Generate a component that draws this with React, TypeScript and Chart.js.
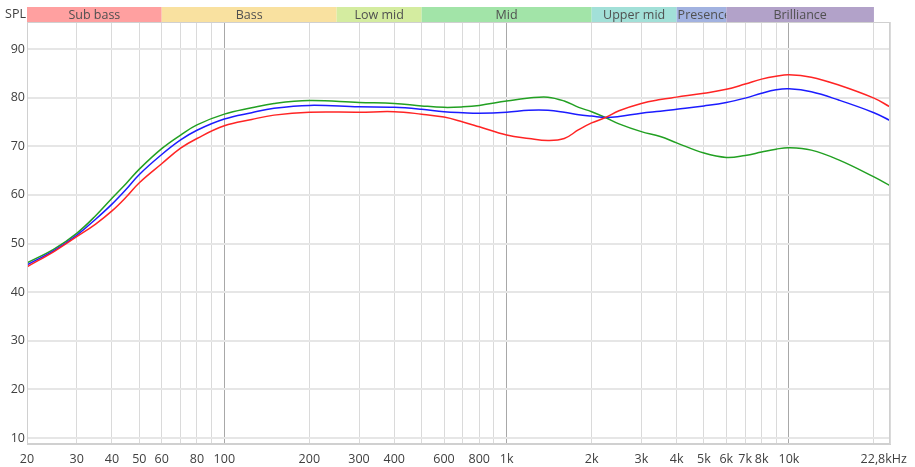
import React, { useEffect, useRef } from 'react';
import { Chart, registerables } from 'chart.js';

Chart.register(...registerables);

const freqs = [20, 25, 30, 35, 40, 45, 50, 60, 70, 80, 100, 125, 150, 200, 300, 400, 500, 600, 700, 800, 1000, 1200, 1400, 1600, 1800, 2000, 2240, 2500, 3000, 3500, 4000, 5000, 6000, 7000, 8000, 9000, 10000, 12000, 15000, 20000, 22800];
const redSpl = [45.2, 48.4, 51.4, 54.0, 56.7, 59.6, 62.5, 66.4, 69.6, 71.6, 74.2, 75.5, 76.4, 77.0, 77.0, 77.1, 76.6, 76.0, 75.0, 74.0, 72.3, 71.6, 71.2, 71.6, 73.4, 74.8, 75.9, 77.3, 78.8, 79.6, 80.1, 80.9, 81.7, 82.8, 83.8, 84.4, 84.7, 84.2, 82.6, 79.9, 78.1];
const blueSpl = [45.6, 48.6, 51.7, 55.0, 58.1, 61.2, 64.2, 68.3, 71.3, 73.3, 75.6, 76.9, 77.8, 78.4, 78.1, 78.0, 77.6, 77.1, 76.9, 76.8, 77.0, 77.4, 77.4, 77.0, 76.5, 76.2, 75.9, 76.1, 76.8, 77.2, 77.6, 78.3, 79.0, 79.9, 80.9, 81.6, 81.8, 81.2, 79.5, 76.9, 75.3];
const greenSpl = [46.0, 48.9, 52.1, 55.7, 59.3, 62.4, 65.3, 69.5, 72.3, 74.4, 76.6, 77.9, 78.8, 79.4, 79.0, 78.8, 78.3, 78.0, 78.1, 78.4, 79.3, 79.9, 80.1, 79.3, 78.0, 77.1, 75.9, 74.6, 73.0, 72.0, 70.7, 68.6, 67.7, 68.1, 68.8, 69.4, 69.7, 69.2, 67.2, 63.7, 61.9];

const xTickValues = [20, 30, 40, 50, 60, 70, 80, 90, 100, 200, 300, 400, 500, 600, 700, 800, 900, 1000, 2000, 3000, 4000, 5000, 6000, 7000, 8000, 9000, 10000, 20000, 22800];
const xTickLabelMap: Record<number, string> = {
  20: '20', 30: '30', 40: '40', 50: '50', 60: '60', 80: '80', 100: '100',
  200: '200', 300: '300', 400: '400', 600: '600', 800: '800', 1000: '1k',
  2000: '2k', 3000: '3k', 4000: '4k', 5000: '5k', 6000: '6k', 7000: '7k', 8000: '8k',
  10000: '10k', 22800: '22,8kHz\u2002\u2002',
};
const yTickValues = [10, 20, 30, 40, 50, 60, 70, 80, 90];
const darkGridValues = [100, 1000, 10000];

const bandNames = ['Sub bass', 'Bass', 'Low mid', 'Mid', 'Upper mid', 'Presence', 'Brilliance'];
const bandEdges = [20, 60, 250, 500, 2000, 4000, 6000, 20000];
const bandColors = ['#ffa0a0', '#f9e1a0', '#d4eca0', '#a2e4a8', '#a2e0d8', '#a2b2e0', '#b2a2c9'];

const FONT = "'Open Sans', sans-serif";

const bandPlugin = {
  id: 'bandStrip',
  afterDraw(chart: any) {
    const { ctx, chartArea, scales } = chart;
    const xs = scales.x;
    ctx.save();
    ctx.strokeStyle = '#d0d0d0';
    ctx.lineWidth = 1;
    ctx.strokeRect(chartArea.left + 0.5, chartArea.top + 0.5, chartArea.right - chartArea.left - 1, chartArea.bottom - chartArea.top - 1);
    const top = 7;
    const h = 15;
    ctx.font = `12.5px ${FONT}`;
    ctx.textBaseline = 'middle';
    ctx.textAlign = 'left';
    for (let i = 0; i < bandNames.length; i++) {
      const x0 = xs.getPixelForValue(bandEdges[i]);
      const x1 = xs.getPixelForValue(bandEdges[i + 1]);
      ctx.fillStyle = bandColors[i];
      ctx.fillRect(x0, top, x1 - x0, h);
      ctx.save();
      ctx.beginPath();
      ctx.rect(x0, top, x1 - x0, h);
      ctx.clip();
      const w = ctx.measureText(bandNames[i]).width;
      const tx = Math.max(x0 + 1, (x0 + x1) / 2 - w / 2);
      ctx.fillStyle = '#505050';
      ctx.fillText(bandNames[i], tx, top + h / 2 + 0.5);
      ctx.restore();
    }
    ctx.fillStyle = '#404040';
    ctx.textAlign = 'right';
    ctx.fillText('SPL', 26, 14);
    ctx.restore();
  },
};

export default function App() {
  const ref = useRef<HTMLCanvasElement | null>(null);
  useEffect(() => {
    if (!ref.current) return;
    const mk = (vals: number[]) => freqs.map((f, i) => ({ x: f, y: vals[i] }));
    const line = (vals: number[], color: string) => ({
      data: mk(vals), borderColor: color, borderWidth: 1.5, pointRadius: 0, tension: 0.4, fill: false,
    });
    const chart = new Chart(ref.current, {
      type: 'line',
      data: {
        datasets: [
          line(redSpl, '#ff2424'),
          line(blueSpl, '#1c1cff'),
          line(greenSpl, '#22a022'),
        ],
      },
      options: {
        animation: false,
        responsive: false,
        maintainAspectRatio: false,
        events: [],
        layout: { padding: { top: 22, right: 25, left: 0, bottom: 0 } },
        plugins: { legend: { display: false }, tooltip: { enabled: false } },
        scales: {
          x: {
            type: 'logarithmic',
            min: 20,
            max: 22800,
            afterBuildTicks: (scale: any) => {
              scale.ticks = xTickValues.map((v) => ({ value: v }));
            },
            afterFit: (scale: any) => {
              scale.height = 23;
              scale.paddingLeft = 0;
              scale.paddingRight = 0;
            },
            ticks: {
              autoSkip: false,
              maxRotation: 0,
              minRotation: 0,
              padding: 8,
              color: '#404040',
              font: { family: FONT, size: 12.5 },
              callback: (value: any) => xTickLabelMap[Number(value)] ?? '',
            },
            grid: {
              drawTicks: false,
              color: (c: any) => (c.tick && darkGridValues.includes(c.tick.value) ? '#a8a8a8' : '#dadada'),
              lineWidth: 1,
            },
            border: { display: true, color: '#d0d0d0' },
          },
          y: {
            type: 'linear',
            min: 8.77,
            max: 95.55,
            afterBuildTicks: (scale: any) => {
              scale.ticks = yTickValues.map((v) => ({ value: v }));
            },
            afterFit: (scale: any) => {
              scale.width = 27;
              scale.paddingTop = 0;
              scale.paddingBottom = 0;
            },
            ticks: {
              padding: 2,
              color: '#404040',
              font: { family: FONT, size: 12.5 },
              callback: (value: any) => String(value),
            },
            grid: { drawTicks: false, color: '#e6e6e6', lineWidth: 2 },
            border: { display: true, color: '#d0d0d0' },
          },
        },
      } as any,
      plugins: [bandPlugin],
    });
    return () => chart.destroy();
  }, []);
  return (
    <div style={{ position: 'fixed', left: 0, top: 0, width: 915, height: 467, background: '#fff' }}>
      <canvas ref={ref} width={915} height={467} style={{ display: 'block' }} />
    </div>
  );
}
